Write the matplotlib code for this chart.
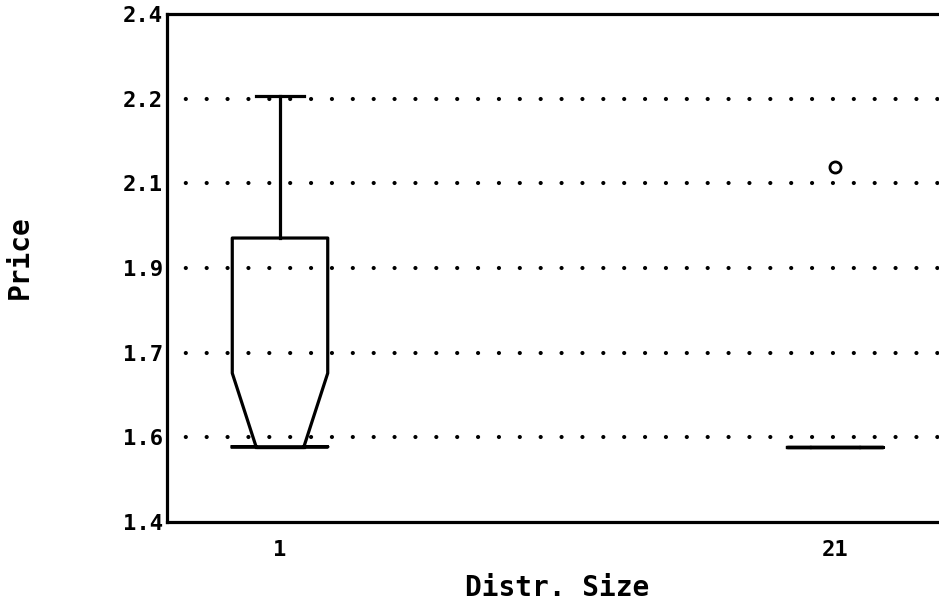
import matplotlib
matplotlib.use("Agg")
import matplotlib.pyplot as plt

# ---- data ----
categories = ["1", "21"]
medians = [1.548, 1.548]
q1s = [1.548, 1.548]
q3s = [1.959, 1.548]
whis_lo = [1.548, 1.548]
whis_hi = [2.239, 1.548]
notch_lo = [1.548, 1.548]
notch_hi = [1.693, 1.548]
fliers = [[], [2.099]]

ytick_values = [1.4 + k / 6 for k in range(7)]
ytick_labels = ["1.4", "1.6", "1.7", "1.9", "2.1", "2.2", "2.4"]

W, H, DPI = 939, 604, 100
fig = plt.figure(figsize=(W / DPI, H / DPI), dpi=DPI)
fig.patch.set_facecolor("white")

ax_left_px, ax_right_px, ax_top_px, ax_bot_px = 167, 960, 14, 522
ax = fig.add_axes([ax_left_px / W, 1 - ax_bot_px / H,
                   (ax_right_px - ax_left_px) / W, (ax_bot_px - ax_top_px) / H])

font = dict(family="DejaVu Sans Mono", weight="bold")

stats = []
for i, c in enumerate(categories):
    stats.append(dict(label=c, med=medians[i], q1=q1s[i], q3=q3s[i],
                      whislo=whis_lo[i], whishi=whis_hi[i],
                      cilo=notch_lo[i], cihi=notch_hi[i], fliers=fliers[i]))

lw = 2.3
positions = list(range(len(categories)))
ax.bxp(stats, positions=positions, widths=0.172, shownotches=True,
       capwidths=[0.088, 0.088],
       boxprops=dict(color="black", linewidth=lw),
       medianprops=dict(color="black", linewidth=lw),
       whiskerprops=dict(color="black", linewidth=lw),
       capprops=dict(color="black", linewidth=lw),
       flierprops=dict(marker="o", markerfacecolor="none",
                       markeredgecolor="black", markersize=8,
                       markeredgewidth=2.0))

px_per_unit = 555.0
ax.set_xlim(-(280 - ax_left_px) / px_per_unit, (ax_right_px - 280) / px_per_unit)
ax.set_ylim(ytick_values[0], ytick_values[-1])

ax.set_xticks(positions)
ax.set_xticklabels(categories, fontsize=16, **font)
ax.set_yticks(ytick_values)
ax.set_yticklabels(ytick_labels, fontsize=16, **font)
ax.tick_params(axis="both", length=0)
ax.tick_params(axis="x", pad=13)
ax.tick_params(axis="y", pad=3)

ax.grid(False)
for v in ytick_values[1:-1]:
    ax.axhline(v, color="black", linewidth=3.0,
               linestyle=(0.5, (0.01, 5.0)), dash_capstyle="round", zorder=0)

for s in ["left", "top", "bottom"]:
    ax.spines[s].set_linewidth(2.3)
    ax.spines[s].set_color("black")
ax.spines["right"].set_visible(False)

ax.set_xlabel("Distr. Size", fontsize=20, va="center", **font)
ax.xaxis.set_label_coords((557 - ax_left_px) / (ax_right_px - ax_left_px),
                          (ax_bot_px - 588) / (ax_bot_px - ax_top_px))
ax.set_ylabel("Price", fontsize=20, va="center", ha="center", **font)
ax.yaxis.set_label_coords((20 - ax_left_px) / (ax_right_px - ax_left_px),
                          (ax_bot_px - 257) / (ax_bot_px - ax_top_px))

fig.savefig("out.png", dpi=DPI)
